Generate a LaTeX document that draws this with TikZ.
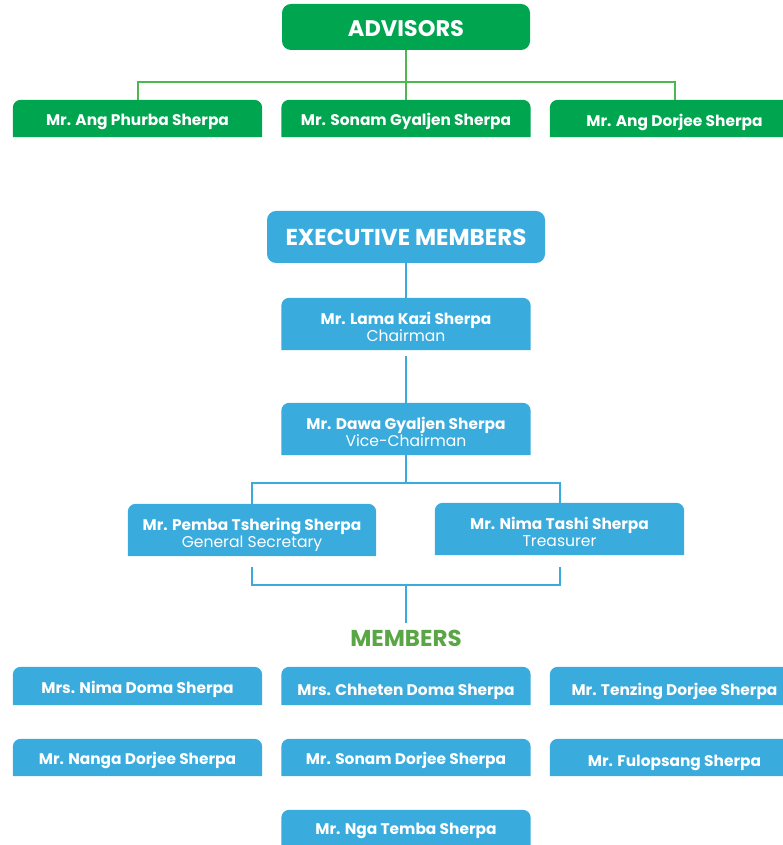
\documentclass[tikz,border=0pt]{standalone}
\usepackage{fontspec}
\setmainfont{Poppins}
\usetikzlibrary{backgrounds}
\definecolor{boxblue}{HTML}{39ABDC}
\definecolor{boxgreen}{HTML}{00A550}
\definecolor{linegreen}{HTML}{4DB84E}
\definecolor{memgreen}{HTML}{5AA646}
\tikzset{
  box/.style={text=white, inner sep=0pt, align=center, minimum width=249pt, font=\fontsize{15.4}{17}\selectfont\bfseries},
  onebox/.style={box, minimum height=37pt, text height=14pt, text depth=0pt},
  twobox/.style={box, minimum height=52pt, text height=17pt, text depth=0pt},
  head/.style={text=white, inner sep=0pt, align=center, font=\fontsize{23}{26}\selectfont\bfseries, rounded corners=9pt},
  bline/.style={draw=boxblue, line width=2pt},
  gline/.style={draw=linegreen, line width=2pt},
}
\newcommand{\rolefont}{\fontsize{15.6}{17}\selectfont\mdseries}
\newcommand{\twolines}[2]{\begin{tabular}{@{}c@{}}#1\\{\rolefont #2}\end{tabular}}
\newcommand{\topfill}[2]{\fill[#2] (#1.south west) [rounded corners=8pt] -- (#1.north west) -- (#1.north east) [sharp corners] -- (#1.south east) -- cycle;}
\begin{document}
\begin{tikzpicture}[x=1pt,y=1pt]
\useasboundingbox (0,0) rectangle (783,845);
\clip (0,0) rectangle (783,845);
% advisors
\node[head, fill=boxgreen, minimum width=248pt, minimum height=46pt, text height=16pt, text depth=0pt, font=\fontsize{22.5}{26}\selectfont\bfseries] (adv) at (406,818) {\raisebox{-2pt}{ADVISORS}};
\node[onebox] (a1) at (137.5,726.5) {Mr. Ang Phurba Sherpa};
\node[onebox] (a2) at (406,726.5) {Mr. Sonam Gyaljen Sherpa};
\node[onebox] (a3) at (674.5,726.5) {\raisebox{-1pt}{Mr. Ang Dorjee Sherpa}};
\coordinate (gbar) at (406,763);
\draw[gline] (adv.south) -- (a2.north);
\draw[gline] (a1.north) |- (a3.north |- gbar) -- (a3.north);
% executive
\node[head, fill=boxblue, minimum width=278pt, minimum height=52pt] (exec) at (406,608) {EXECUTIVE MEMBERS};
\node[twobox] (ch) at (406,521) {\twolines{Mr. Lama Kazi Sherpa}{Chairman}};
\node[twobox] (vc) at (406,416) {\twolines{Mr. Dawa Gyaljen Sherpa}{Vice-Chairman}};
\node[twobox, minimum width=248pt] (gs) at (252,315) {\twolines{Mr. Pemba Tshering Sherpa}{General Secretary}};
\node[twobox] (tr) at (559.5,316) {\twolines{Mr. Nima Tashi Sherpa}{Treasurer}};
\coordinate (bbar) at (406,362);
\coordinate (lbar) at (406,260);
\draw[bline] (exec.south) -- (ch.north);
\draw[bline] ([yshift=-6pt]ch.south) -- (vc.north);
\draw[bline] (vc.south) -- (bbar);
\draw[bline] (gs.north) |- (tr.north |- bbar) -- (tr.north);
\draw[bline] ([yshift=-11pt]gs.south) |- (tr.south |- lbar) -- ([yshift=-12pt]tr.south);
\node[text=memgreen, inner sep=0pt, font=\fontsize{23}{26}\selectfont\bfseries] (mem) at (406,207) {MEMBERS};
\coordinate (mtop) at (406,222);
\draw[bline] (lbar) -- (mtop);
% members
\node[onebox, minimum height=38pt] (m1) at (137.5,159) {\raisebox{-0.5pt}{Mrs. Nima Doma Sherpa}};
\node[onebox, minimum height=38pt] (m2) at (406,159) {\raisebox{-2.5pt}{Mrs. Chheten Doma Sherpa}};
\node[onebox, minimum height=38pt] (m3) at (674.5,159) {\raisebox{-2.5pt}{Mr. Tenzing Dorjee Sherpa}};
\node[onebox] (m4) at (137.5,87.5) {Mr. Nanga Dorjee Sherpa};
\node[onebox] (m5) at (406,87.5) {Mr. Sonam Dorjee Sherpa};
\node[onebox] (m6) at (674.5,87.5) {\raisebox{-2pt}{Mr. Fulopsang Sherpa}};
\node[onebox] (m7) at (406,16.5) {\raisebox{1pt}{Mr. Nga Temba Sherpa}};
\begin{scope}[on background layer]
\foreach \n in {a1,a2,a3} {\topfill{\n}{boxgreen}}
\foreach \n in {ch,vc,gs,tr,m1,m2,m3,m4,m5,m6,m7} {\topfill{\n}{boxblue}}
\end{scope}
\end{tikzpicture}
\end{document}
